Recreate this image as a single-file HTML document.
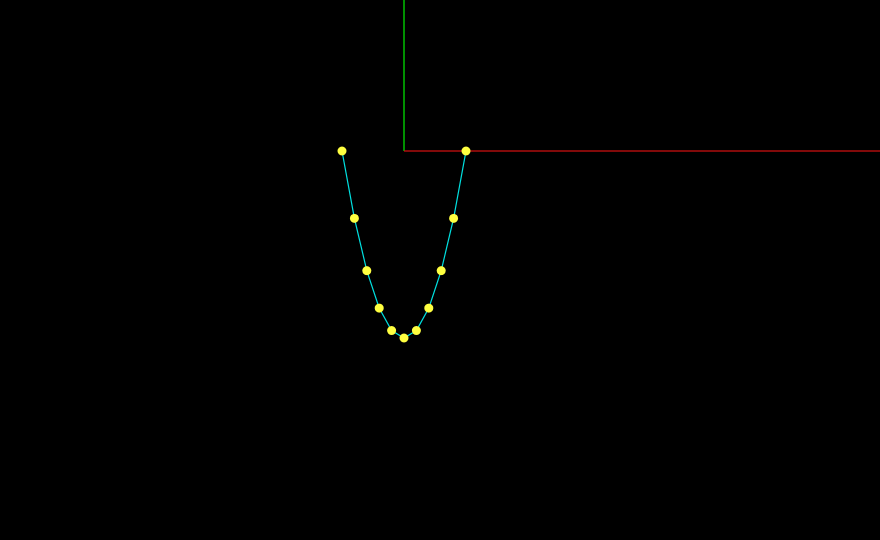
<!DOCTYPE html>
<html><head><meta charset="utf-8"><style>html,body{margin:0;padding:0;background:#000;width:880px;height:540px;overflow:hidden}</style></head>
<body>
<svg id="chart" width="880" height="540" xmlns="http://www.w3.org/2000/svg">
<rect width="880" height="540" fill="#000"/>
<g id="axes"></g><g id="series"></g>
</svg>
<script>
const xValues = [-5,-4,-3,-2,-1,0,1,2,3,4,5];
const yValues = [0,-9,-16,-21,-24,-25,-24,-21,-16,-9,0];
const ox = 404, oy = 151, sx = 12.4, sy = 7.48;
function X(v){return ox + v*sx;}
function Y(v){return oy - v*sy;}
const NS='http://www.w3.org/2000/svg';
const axes=document.getElementById('axes'), series=document.getElementById('series');
const ya=document.createElementNS(NS,'line');
ya.setAttribute('x1',X(0));ya.setAttribute('x2',X(0));ya.setAttribute('y1',0);ya.setAttribute('y2',Y(0));
ya.setAttribute('stroke','#00c000');ya.setAttribute('stroke-width','1.5');


axes.appendChild(ya);
const xa=document.createElementNS(NS,'line');
xa.setAttribute('x1',X(0));xa.setAttribute('x2',880);xa.setAttribute('y1',Y(0));xa.setAttribute('y2',Y(0));
xa.setAttribute('stroke','#d01010');xa.setAttribute('stroke-width','1.2');


axes.appendChild(xa);
const pl=document.createElementNS(NS,'polyline');
pl.setAttribute('points',xValues.map((x,i)=>X(x)+','+Y(yValues[i])).join(' '));
pl.setAttribute('fill','none');pl.setAttribute('stroke','#00e0e0');pl.setAttribute('stroke-width','1.2');


series.appendChild(pl);
xValues.forEach((x,i)=>{
  const c=document.createElementNS(NS,'circle');
  c.setAttribute('cx',X(x));c.setAttribute('cy',Y(yValues[i]));c.setAttribute('r',4.5);
  c.setAttribute('fill','#ffff40');
  
  
  series.appendChild(c);
});
</script>
</body></html>
